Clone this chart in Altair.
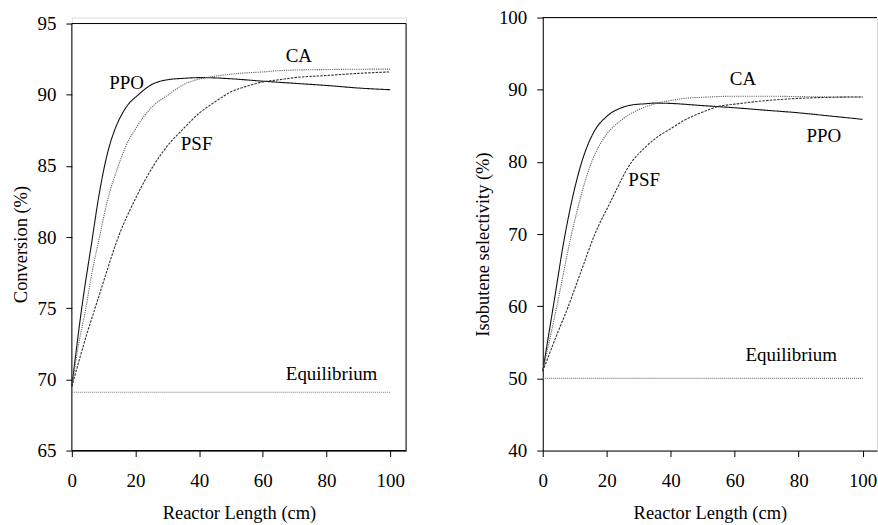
import altair as alt
import pandas as pd

FONT = "Liberation Serif"

# ---------------- data ----------------
# Left panel: Conversion (%) vs Reactor Length (cm)
conv_ppo_x = [0, 3.1, 6.5, 8.2, 10, 11.8, 13.6, 16.7, 20.9, 25, 30, 35, 40, 45, 50, 60, 70, 80, 90, 100]
conv_ppo_y = [69.5, 75, 80, 82.5, 84.7, 86.4, 87.6, 89, 90, 90.7, 91.05, 91.15, 91.2, 91.18, 91.12, 90.95, 90.8, 90.65, 90.47, 90.35]
conv_ca_x = [0, 2, 4.4, 6.5, 8.7, 11, 14.6, 17, 20, 25, 30.3, 35, 40, 45, 52.7, 60, 66, 80, 100]
conv_ca_y = [69.5, 72.3, 75, 77.7, 80, 82.4, 85, 86.4, 87.6, 89.1, 90, 90.7, 91.1, 91.3, 91.5, 91.6, 91.7, 91.77, 91.8]
conv_psf_x = [0, 2.5, 5, 7.3, 10, 14.6, 20, 25.6, 30, 35, 40, 45, 50, 55, 60, 65, 70, 80, 90, 100]
conv_psf_y = [69.5, 71.5, 73.4, 75, 76.9, 80, 82.7, 85, 86.4, 87.6, 88.7, 89.5, 90.2, 90.6, 90.9, 91.05, 91.2, 91.35, 91.5, 91.6]
conv_eq_x = [0, 100]
conv_eq_y = [69.1, 69.1]

# Right panel: Isobutene selectivity (%) vs Reactor Length (cm)
sel_ppo_x = [0, 3.3, 7, 12.2, 15.8, 20, 24.6, 28, 31.9, 35, 40, 50, 60, 70, 80, 90, 100]
sel_ppo_y = [51, 60, 70, 80, 84, 86.3, 87.5, 87.9, 88.05, 88.15, 88.1, 87.8, 87.5, 87.15, 86.8, 86.35, 85.9]
sel_ca_x = [0, 4.4, 9, 15.3, 19.4, 24.6, 30.9, 35.5, 40, 44.4, 50, 60, 70, 80, 90, 100]
sel_ca_y = [51, 60, 70, 80, 83.5, 85.8, 87.4, 88.1, 88.5, 88.8, 88.95, 89.1, 89.1, 89.05, 89.0, 89.0]
sel_psf_x = [0, 4, 8, 12.2, 16.3, 21, 27.8, 32, 36, 40, 44.4, 50, 55, 60, 70, 80, 90, 100]
sel_psf_y = [51, 55.6, 60, 65.1, 70, 74.3, 80, 82, 83.5, 84.6, 85.8, 86.9, 87.7, 88.0, 88.5, 88.8, 88.95, 89.0]
sel_eq_x = [0, 100]
sel_eq_y = [50, 50]

# curve labels (text, x, y in data units)
conv_lab_text = ["PPO", "CA", "PSF", "Equilibrium"]
conv_lab_x = [17.2, 71.3, 39.2, 81.6]
conv_lab_y = [90.84, 92.71, 86.53, 70.37]
sel_lab_text = ["CA", "PPO", "PSF", "Equilibrium"]
sel_lab_x = [62.6, 87.9, 31.7, 77.7]
sel_lab_y = [91.42, 83.58, 77.54, 53.23]

x_ticks = [0, 20, 40, 60, 80, 100]
conv_ticks = [65, 70, 75, 80, 85, 90, 95]
sel_ticks = [40, 50, 60, 70, 80, 90, 100]

series_names = ["PPO", "CA", "PSF", "Equilibrium"]
series_colors = ["#111111", "#666666", "#333333", "#777777"]
series_dash = [[1, 0], [1.2, 1], [2.5, 1.2], [1, 1]]


def long_df(parts):
    rows = []
    for name, xs, ys in parts:
        for i, (a, b) in enumerate(zip(xs, ys)):
            rows.append({"series": name, "x": a, "y": b, "order": i})
    return pd.DataFrame(rows)


conv_df = long_df([("PPO", conv_ppo_x, conv_ppo_y), ("CA", conv_ca_x, conv_ca_y),
                   ("PSF", conv_psf_x, conv_psf_y), ("Equilibrium", conv_eq_x, conv_eq_y)])
sel_df = long_df([("PPO", sel_ppo_x, sel_ppo_y), ("CA", sel_ca_x, sel_ca_y),
                  ("PSF", sel_psf_x, sel_psf_y), ("Equilibrium", sel_eq_x, sel_eq_y)])
conv_lab = pd.DataFrame({"t": conv_lab_text, "x": conv_lab_x, "y": conv_lab_y})
sel_lab = pd.DataFrame({"t": sel_lab_text, "x": sel_lab_x, "y": sel_lab_y})

W = 335
H = 434


def axis_common(**kw):
    base = dict(grid=False, labelFont=FONT, labelFontSize=19, titleFont=FONT, titleFontSize=18.5,
                titleFontWeight="normal", domainColor="black", tickColor="black",
                labelColor="black", titleColor="black", tickSize=6, labelFlush=False,
                labelOverlap=False)
    base.update(kw)
    return alt.Axis(**base)


def panel(df, lab, ydom, yticks, ytitle, xmax, title_x, frame_kind, frame_vals):
    xs = alt.Scale(domain=[0, xmax], nice=False, zero=False)
    ys = alt.Scale(domain=ydom, nice=False, zero=False)
    xax = axis_common(values=x_ticks, title="Reactor Length (cm)", labelPadding=15,
                      titleY=62, titleBaseline="middle")
    yax = axis_common(values=yticks, title=ytitle, labelPadding=10, titleX=title_x,
                      titleY=227, titleBaseline="middle", domain=(frame_kind == "top"))
    lines = alt.Chart(df).mark_line(strokeWidth=1.1, interpolate="monotone").encode(
        x=alt.X("x:Q", scale=xs, axis=xax),
        y=alt.Y("y:Q", scale=ys, axis=yax),
        color=alt.Color("series:N", scale=alt.Scale(domain=series_names, range=series_colors), legend=None),
        strokeDash=alt.StrokeDash("series:N", scale=alt.Scale(domain=series_names, range=series_dash), legend=None),
        order="order:Q",
    )
    texts = alt.Chart(lab).mark_text(font=FONT, fontSize=19, color="black", align="center",
                                     baseline="middle").encode(x="x:Q", y="y:Q", text="t:N")
    if frame_kind == "box":
        fdf = pd.DataFrame({"x0": [0], "x1": [frame_vals[0]], "y0": [frame_vals[1]], "y1": [frame_vals[2]]})
        frame = alt.Chart(fdf).mark_rect(fillOpacity=0, stroke="black", strokeWidth=1).encode(
            x="x0:Q", x2="x1:Q", y="y0:Q", y2="y1:Q")
    else:
        fdf = pd.DataFrame({"x0": [0], "x1": [frame_vals[0]], "y0": [frame_vals[1]]})
        frame = alt.Chart(fdf).mark_rule(stroke="black", strokeWidth=1).encode(
            x="x0:Q", x2="x1:Q", y="y0:Q")
    return alt.layer(frame, lines, texts).properties(width=W, height=H)


left = panel(conv_df, conv_lab, [65, 65 + H * 30 / 428], conv_ticks, "Conversion (%)", 105, -51.7,
             "box", [105, 65, 95])
right = panel(sel_df, sel_lab, [40, 100], sel_ticks, "Isobutene selectivity (%)", 104.5, -60.7,
              "top", [104.5, 100])

chart = alt.hconcat(left, right, spacing=65).properties(
    padding={"left": 10, "top": 7, "right": 0, "bottom": 0}
).configure_view(stroke=None).configure(background="white")

chart.save("out.html", embed_options={"renderer": "svg", "actions": False})
